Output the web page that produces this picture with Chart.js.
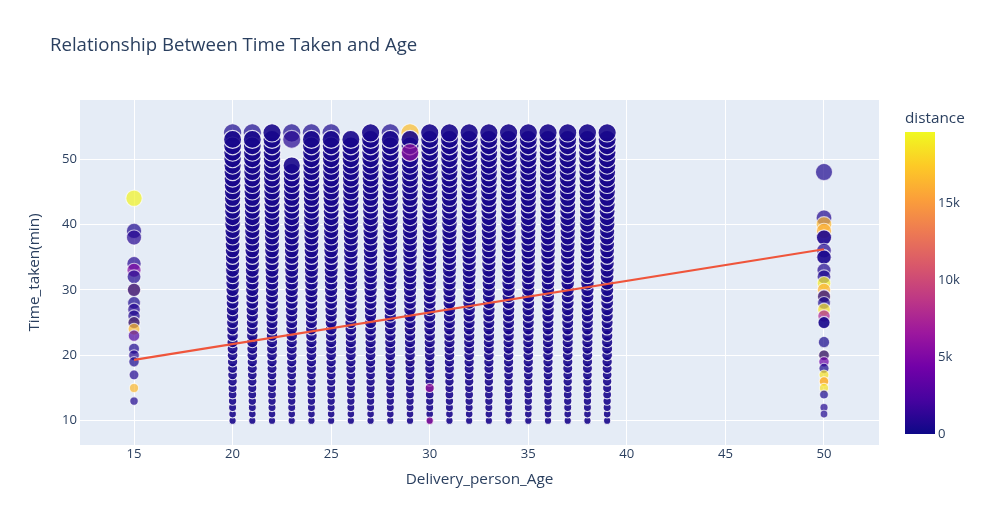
<!DOCTYPE html>
<html lang="en">
<head>
    <meta charset="UTF-8">
    <title>Relationship Between Time Taken and Age</title>
    <script src="https://cdn.jsdelivr.net/npm/chart.js"></script>
    <style>
        body { margin: 0; background: #fff; }
        #wrap { width: 984px; height: 525px; position: relative; }
    </style>
</head>
<body>
<div id="wrap"><canvas id="myChart"></canvas></div>
<script>
    // dense block: every age 20-39 has deliveries at every minute 10-54
    const blockAges = [20, 21, 22, 23, 24, 25, 26, 27, 28, 29, 30, 31, 32, 33, 34, 35, 36, 37, 38, 39];
    const blockTimes = [10, 11, 12, 13, 14, 15, 16, 17, 18, 19, 20, 21, 22, 23, 24, 25, 26, 27, 28, 29, 30,
        31, 32, 33, 34, 35, 36, 37, 38, 39, 40, 41, 42, 43, 44, 45, 46, 47, 48, 49, 50, 51, 52, 53, 54];
    const blockDistance = 400;

    // holes in the block
    const gapAges = [23, 23, 23, 26];
    const gapTimes = [50, 51, 52, 54];

    // single (lighter) points at the top of some columns
    const loneAges = [20, 21, 23, 23, 24, 25, 28, 29];
    const loneTimes = [54, 54, 54, 53, 54, 54, 54, 54];
    const loneDist = [500, 500, 500, 900, 500, 500, 500, 16800];

    // coloured points hidden behind the block
    const underAges = [29, 29, 29, 30, 39];
    const underTimes = [44, 24, 19, 34, 51];
    const underDist = [16000, 16000, 16000, 3500, 3000];

    // coloured points showing on top of the block
    const overAges = [29, 30, 30];
    const overTimes = [51, 15, 10];
    const overDist = [6000, 6500, 6500];

    // age 15 and age 50 columns
    const age15Times = [44, 39, 38, 34, 33, 32, 30, 30, 28, 27, 26, 25, 25, 24, 23, 21, 20, 19, 17, 15, 13];
    const age15Dist = [19300, 600, 900, 800, 5200, 700, 15000, 600, 500, 900, 700, 16000, 500, 16500, 2500,
        600, 800, 500, 800, 16500, 700];
    const age50Times = [48, 41, 40, 39, 38, 38, 36, 35, 35, 33, 32, 31, 30, 29, 29, 28, 27, 26, 25, 25,
        22, 20, 20, 19, 18, 17, 16, 16, 15, 14, 12, 11];
    const age50Dist = [600, 700, 16500, 16000, 500, 700, 800, 600, 500, 700, 600, 19000, 16000, 16000, 600,
        500, 18500, 7500, 500, 400, 300, 17500, 600, 4000, 500, 18500, 18000, 15500, 18500, 500, 800, 700];

    // OLS trendline ends
    const trendAges = [15, 50];
    const trendTimes = [19.3, 36.2];

    const xTicks = [15, 20, 25, 30, 35, 40, 45, 50];
    const yTicks = [10, 20, 30, 40, 50];
    const colorMax = 19600;
    const barTicks = [0, 5000, 10000, 15000];
    const barLabels = ['0', '5k', '10k', '15k'];

    const plasma = ['#0d0887', '#46039f', '#7201a8', '#9c179e', '#bd3786',
        '#d8576b', '#ed7953', '#fb9f3a', '#fdca26', '#f0f921'];
    const TEXT = '#2a3f5f';
    const FONT = '"Open Sans", verdana, arial, sans-serif';

    function hex(c) {
        return [parseInt(c.slice(1, 3), 16), parseInt(c.slice(3, 5), 16), parseInt(c.slice(5, 7), 16)];
    }
    function colorAt(v, alpha) {
        let t = Math.max(0, Math.min(1, v / colorMax)) * (plasma.length - 1);
        let i = Math.min(Math.floor(t), plasma.length - 2);
        let f = t - i;
        let a = hex(plasma[i]), b = hex(plasma[i + 1]);
        let rgb = a.map((x, k) => Math.round(x + (b[k] - x) * f));
        return 'rgba(' + rgb.join(',') + ',' + alpha + ')';
    }

    function inList(ages, times, a, t) {
        for (let i = 0; i < ages.length; i++) if (ages[i] === a && times[i] === t) return true;
        return false;
    }

    const blockPts = [];
    blockAges.forEach(a => blockTimes.forEach(t => {
        if (inList(gapAges, gapTimes, a, t) || inList(loneAges, loneTimes, a, t)) return;
        blockPts.push({x: a, y: t, d: blockDistance});
    }));
    const underPts = loneAges.map((a, i) => ({x: a, y: loneTimes[i], d: loneDist[i]}))
        .concat(underAges.map((a, i) => ({x: a, y: underTimes[i], d: underDist[i]})));
    const overPts = overAges.map((a, i) => ({x: a, y: overTimes[i], d: overDist[i]}));
    const edgePts = age15Times.map((t, i) => ({x: 15, y: t, d: age15Dist[i]}))
        .concat(age50Times.map((t, i) => ({x: 50, y: t, d: age50Dist[i]})));
    const trendPts = trendAges.map((a, i) => ({x: a, y: trendTimes[i]}));

    const radius = ctx => ctx.raw ? 9.6 * Math.sqrt(ctx.raw.y / 54) - 0.5 : 0;
    function bubbles(pts, alpha, order) {
        return {
            data: pts, order: order,
            pointRadius: radius,
            pointBackgroundColor: ctx => ctx.raw ? colorAt(ctx.raw.d, alpha) : 'transparent',
            pointBorderColor: 'rgba(255,255,255,' + (alpha - 0.05) + ')',
            pointBorderWidth: 1.1
        };
    }

    const decor = {
        id: 'decor',
        beforeDraw(chart) {
            const {ctx, chartArea: a} = chart;
            ctx.save();
            ctx.fillStyle = '#e5ecf6';
            ctx.fillRect(a.left, a.top, a.right - a.left, a.bottom - a.top);
            ctx.restore();
        },
        afterDraw(chart) {
            const {ctx, chartArea: a} = chart;
            ctx.save();
            ctx.fillStyle = TEXT;
            ctx.font = '18.6px ' + FONT;
            ctx.textBaseline = 'alphabetic';
            ctx.fillText('Relationship Between Time Taken and Age', 50, 51);

            // colour bar
            const bx = a.right + 26, bw = 30, top = a.top + 32, bottom = a.bottom - 11;
            const g = ctx.createLinearGradient(0, bottom, 0, top);
            plasma.forEach((c, i) => g.addColorStop(i / (plasma.length - 1), c));
            ctx.fillStyle = g;
            ctx.fillRect(bx, top, bw, bottom - top);
            ctx.fillStyle = TEXT;
            ctx.font = '15.3px ' + FONT;
            ctx.fillText('distance', bx, top - 9);
            ctx.font = '13.1px ' + FONT;
            ctx.textBaseline = 'middle';
            barTicks.forEach((v, i) => {
                const y = bottom - (bottom - top) * v / colorMax;
                ctx.fillText(barLabels[i], bx + bw + 3, y);
            });
            ctx.restore();
        }
    };

    new Chart(document.getElementById('myChart'), {
        type: 'scatter',
        data: {
            datasets: [
                {data: trendPts, order: 0, showLine: true, borderColor: '#ef553b', borderWidth: 2.2, pointRadius: 0},
                bubbles(overPts, 0.7, 1),
                bubbles(edgePts, 0.7, 2),
                bubbles(blockPts, 0.9, 3),
                bubbles(underPts, 0.7, 4)
            ]
        },
        options: {
            responsive: true,
            maintainAspectRatio: false,
            animation: false,
            events: [],
            layout: {padding: {top: 100, left: 0, right: 105, bottom: 0}},
            plugins: {legend: {display: false}, tooltip: {enabled: false}},
            scales: {
                x: {
                    min: 12.26, max: 52.79,
                    afterFit: s => { s.height = 80; },
                    afterBuildTicks: s => { s.ticks = xTicks.map(v => ({value: v})); },
                    grid: {color: '#ffffff', lineWidth: 1, drawTicks: false},
                    border: {display: false},
                    ticks: {color: TEXT, font: {family: FONT, size: 13.1}, padding: 1},
                    title: {display: true, text: 'Delivery_person_Age', color: TEXT,
                        font: {family: FONT, size: 15.3}, padding: {top: 0, bottom: 35.8}}
                },
                y: {
                    min: 6.28, max: 59.02,
                    afterFit: s => { s.width = 80; },
                    afterBuildTicks: s => { s.ticks = yTicks.map(v => ({value: v})); },
                    grid: {color: '#ffffff', lineWidth: 1, drawTicks: false},
                    border: {display: false},
                    ticks: {color: TEXT, font: {family: FONT, size: 13.1}, padding: 3},
                    title: {display: true, text: 'Time_taken(min)', color: TEXT,
                        font: {family: FONT, size: 15.3}, padding: {top: 25.8, bottom: 0}}
                }
            }
        },
        plugins: [decor]
    });
</script>
</body>
</html>
